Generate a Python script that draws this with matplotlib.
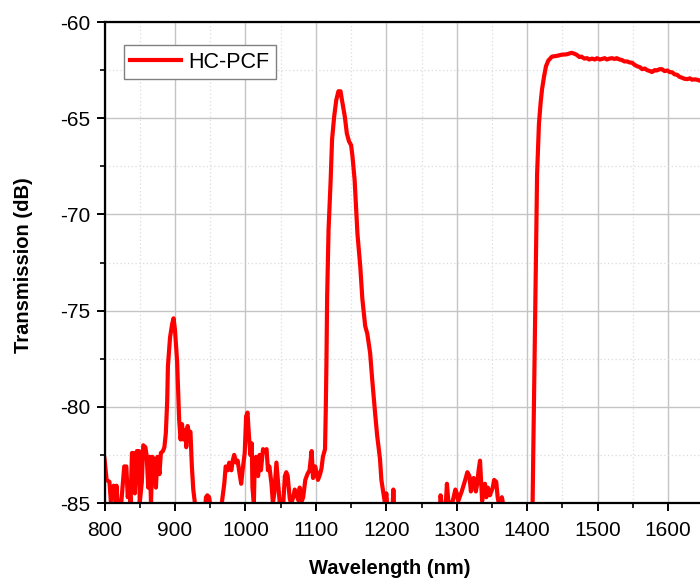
import matplotlib
matplotlib.use("Agg")
import matplotlib.pyplot as plt
from matplotlib.ticker import MultipleLocator, FixedLocator

plt.rcParams['font.family'] = ['Liberation Sans', 'DejaVu Sans']
plt.rcParams['axes.unicode_minus'] = False

wavelength = [
    800, 803, 807, 809, 813, 816, 817, 820, 824, 828, 831, 833, 835, 837, 839, 841, 843, 846, 849, 850,
    853, 855, 858, 860, 862, 864, 866, 868, 871, 873, 875, 878, 880, 883, 885, 887, 889, 890, 893,
    896, 898, 900, 903, 905, 906, 908, 910, 912, 915, 916, 918, 920, 922, 924, 926, 928, 931, 935,
    940, 944, 946, 948.5, 951, 953, 958, 963, 967, 970, 972, 975, 977, 980, 982, 984, 987, 989, 991,
    994, 996, 999, 1001, 1003, 1005, 1007, 1009, 1010, 1012, 1013, 1015, 1018, 1020, 1022, 1025,
    1027, 1030, 1032, 1034, 1037, 1039, 1041, 1044, 1046, 1049, 1051, 1053, 1056, 1058, 1060, 1063,
    1065, 1068, 1070, 1072, 1075, 1077, 1080, 1082, 1085, 1088, 1091, 1094, 1096, 1099, 1101, 1103,
    1106, 1108, 1110, 1113, 1114, 1115, 1116, 1118, 1121, 1123, 1126, 1129, 1132, 1135, 1137, 1141,
    1144, 1147, 1150, 1152, 1155, 1157, 1159, 1163, 1166, 1170, 1173, 1177, 1180, 1184, 1187, 1191,
    1193, 1196, 1198, 1200, 1202, 1205, 1208, 1210, 1212, 1215, 1270, 1275, 1277, 1279, 1283, 1286,
    1288, 1293, 1298, 1300, 1302, 1307, 1312, 1315, 1318, 1320, 1322, 1324, 1327, 1329, 1331, 1333,
    1334, 1336, 1338, 1340, 1342, 1344, 1347, 1349, 1351, 1353, 1356, 1358, 1360, 1362, 1364, 1366,
    1370, 1380, 1400, 1406, 1407.6, 1409.5, 1412, 1414, 1416.6, 1419, 1421, 1424, 1426.6, 1430, 1435,
    1442, 1449, 1456, 1463, 1467, 1470, 1474, 1477, 1481, 1485, 1488, 1492, 1496, 1499, 1503, 1506,
    1510, 1513, 1517, 1520, 1524, 1527, 1531, 1534, 1538, 1542, 1545, 1549, 1552, 1556, 1560, 1563,
    1567, 1570, 1574, 1577, 1581, 1584, 1588, 1591, 1595, 1599, 1602, 1606, 1609, 1613, 1616, 1620,
    1623, 1627, 1631, 1634, 1638, 1641, 1645, 1650, 1660, 1670, 1680, 1690, 1700,
]

transmission = [
    -82.7, -83.8, -83.9, -84.9, -84.1, -85.0, -84.1, -85.8, -84.9, -83.1, -83.1, -84.7, -84.2, -85.0,
    -82.4, -82.4, -84.5, -82.3, -82.3, -85.0, -83.9, -82.0, -82.1, -82.6, -84.2, -82.6, -85.0, -82.6,
    -82.8, -84.2, -82.6, -83.5, -82.4, -82.3, -82.1, -81.4, -79.7, -77.9, -76.4, -75.7, -75.4, -76.0,
    -77.6, -79.7, -80.7, -81.7, -80.9, -81.7, -81.2, -82.1, -81.0, -81.4, -81.3, -83.1, -84.3, -84.9,
    -86.0, -87.0, -87.0, -84.7, -84.6, -84.7, -85.3, -86.0, -87.0, -86.5, -84.85, -84.0, -83.1, -83.3,
    -82.9, -83.3, -82.8, -82.5, -82.9, -82.8, -83.3, -84.0, -83.3, -82.4, -80.5, -80.3, -81.5, -82.5,
    -81.9, -84.2, -85.0, -83.3, -82.6, -83.6, -82.5, -83.3, -82.2, -82.3, -82.2, -83.3, -83.1, -84.0,
    -85.0, -84.5, -82.9, -83.8, -85.1, -86.0, -85.5, -83.6, -83.4, -83.6, -84.8, -85.0, -84.7, -84.3,
    -84.5, -84.85, -84.2, -84.9, -84.7, -83.8, -83.5, -83.3, -82.3, -83.7, -83.1, -83.4, -83.8, -83.5,
    -83.2, -82.6, -82.2, -80.3, -77.7, -74.3, -70.8, -68.2, -66.1, -64.9, -64.05, -63.6, -63.6, -64.05,
    -64.9, -65.8, -66.2, -66.4, -67.0, -68.2, -69.6, -71.0, -72.7, -74.4, -75.8, -76.2, -77.2, -78.6,
    -80.3, -81.5, -82.7, -83.8, -84.5, -85.0, -84.5, -85.5, -86.5, -86.0, -84.3, -86.0, -87.0, -87.0,
    -86.0, -84.6, -85.2, -86.0, -84.0, -84.9, -85.1, -84.3, -84.5, -84.9, -84.4, -83.8, -83.4, -83.6,
    -84.4, -84.0, -83.7, -84.4, -84.0, -83.3, -82.8, -83.5, -84.9, -84.2, -84.0, -84.7, -84.2, -84.6,
    -84.4, -84.2, -83.8, -83.9, -84.7, -85.1, -85.5, -84.7, -85.1, -86.5, -87.0, -87.0, -86.5, -85.0,
    -80.0, -73.05, -67.9, -65.3, -64.2, -63.5, -62.8, -62.3, -62.0, -61.8, -61.76, -61.7, -61.68,
    -61.6, -61.65, -61.7, -61.82, -61.8, -61.9, -61.88, -61.95, -61.9, -61.95, -61.88, -61.95, -61.92,
    -61.88, -61.95, -61.9, -61.88, -61.92, -61.88, -61.95, -61.97, -62.05, -62.05, -62.1, -62.12,
    -62.22, -62.3, -62.35, -62.45, -62.42, -62.5, -62.55, -62.6, -62.5, -62.52, -62.45, -62.45, -62.55,
    -62.52, -62.6, -62.62, -62.72, -62.75, -62.85, -62.9, -62.95, -62.97, -62.93, -63.0, -62.98, -63.0,
    -63.05, -63.1, -63.15, -63.2, -63.25, -63.3, -63.35,
]

series_label = "HC-PCF"
x_label = "Wavelength (nm)"
y_label = "Transmission (dB)"
x_ticks = [800, 900, 1000, 1100, 1200, 1300, 1400, 1500, 1600]
x_range = (800, 1700)
y_range = (-85, -60)

W, H = 700, 581
fig = plt.figure(figsize=(W / 100, H / 100), dpi=100)
left, right, top, bottom = 104.5, 738.6, 22, 503
ax = fig.add_axes([left / W, 1 - bottom / H, (right - left) / W, (bottom - top) / H])

ax.plot(wavelength, transmission, color='#ff0000', lw=3.0, label=series_label,
        solid_joinstyle='round', zorder=3)

ax.set_xlim(*x_range)
ax.set_ylim(*y_range)
ax.xaxis.set_major_locator(FixedLocator(x_ticks))
ax.xaxis.set_minor_locator(MultipleLocator(50))
ax.yaxis.set_major_locator(MultipleLocator(5))
ax.yaxis.set_minor_locator(MultipleLocator(2.5))

ax.grid(which='major', color='#c4c4c4', lw=1.0, zorder=0)
ax.grid(which='minor', color='#dcdcdc', lw=0.9, ls=(0, (1, 2)), zorder=0)
ax.set_axisbelow(True)

for s in ['left', 'bottom', 'top']:
    ax.spines[s].set_linewidth(1.6)
    ax.spines[s].set_color('black')
    ax.spines[s].set_zorder(4)
ax.spines['right'].set_visible(False)

ax.tick_params(which='major', direction='out', length=6, width=1.4, labelsize=15, pad=4,
               colors='black')
ax.tick_params(which='minor', direction='out', length=3.5, width=1.2)
ax.tick_params(axis='x', which='major', pad=7)

ax.set_xlabel(x_label, fontsize=14.5, fontweight='bold')
ax.set_ylabel(y_label, fontsize=14.5, fontweight='bold')
ax.xaxis.set_label_coords((389.5 - left) / (right - left), -0.117)
ax.yaxis.set_label_coords(-0.113, 0.495)

leg = ax.legend(loc='upper left', bbox_to_anchor=(123.5 / W, 1 - 45.5 / H),
                bbox_transform=fig.transFigure, borderaxespad=0, fontsize=15.5,
                frameon=True, fancybox=False, edgecolor='#808080', framealpha=1,
                handlelength=2.4, handletextpad=0.35, borderpad=0.28)
leg.get_frame().set_linewidth(1.0)

fig.savefig('out.png', dpi=100)
